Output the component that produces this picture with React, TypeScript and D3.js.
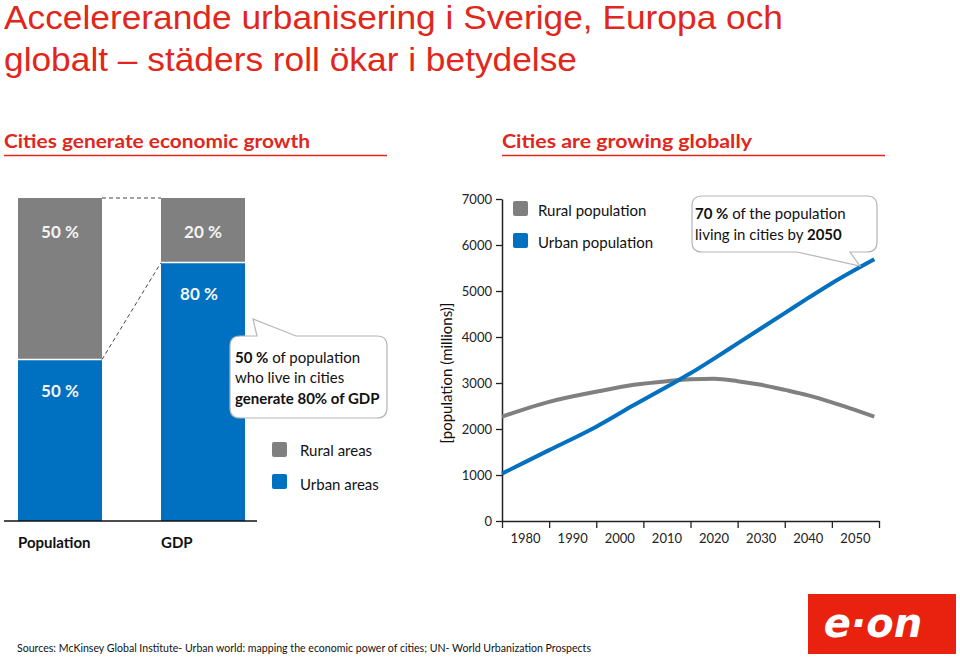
import React, { useEffect, useRef } from "react";
import * as d3 from "d3";

const titleLines = [
  "Accelererande urbanisering i Sverige, Europa och",
  "globalt – städers roll ökar i betydelse",
];
const subtitles = ["Cities generate economic growth", "Cities are growing  globally"];

const barCategories = ["Population", "GDP"];
const ruralShare = [50, 20];
const urbanShare = [50, 80];

const years = [1975, 1985, 1995, 2003, 2010, 2015, 2020, 2025, 2030, 2035, 2040, 2045, 2054];
const ruralPop = [2270, 2590, 2810, 2960, 3040, 3080, 3090, 3040, 2960, 2850, 2730, 2580, 2270];
const urbanPop = [1030, 1540, 2050, 2520, 2920, 3210, 3530, 3860, 4190, 4520, 4850, 5170, 5690];

const yTicks = [0, 1000, 2000, 3000, 4000, 5000, 6000, 7000];
const xBoundaries = [1975, 1985, 1995, 2005, 2015, 2025, 2035, 2045, 2055];
const xLabels = ["1980", "1990", "2000", "2010", "2020", "2030", "2040", "2050"];

const RED = "#e1261c";
const GRAY = "#808080";
const BLUE = "#0070c0";
const FONT = "Lato, 'Open Sans', sans-serif";

export default function App() {
  const yAxisRef = useRef<SVGGElement>(null);
  const xAxisRef = useRef<SVGGElement>(null);

  // Left chart scales
  const bx = d3.scaleBand<string>().domain(barCategories).range([18, 245]).paddingInner(0.4126).paddingOuter(0);
  const by = d3.scaleLinear().domain([0, 100]).range([521, 198]);

  // Right chart scales
  const x = d3.scaleLinear().domain([1975, 2055]).range([502, 879]);
  const y = d3.scaleLinear().domain([0, 7000]).range([521, 199]);

  const line = d3
    .line<number>()
    .x((_, i) => x(years[i]))
    .y((d) => y(d))
    .curve(d3.curveMonotoneX);

  useEffect(() => {
    if (yAxisRef.current) {
      const g = d3.select(yAxisRef.current);
      g.call(
        d3.axisLeft(y).tickValues(yTicks).tickSize(6).tickSizeOuter(0).tickPadding(4).tickFormat(d3.format("d")) as any
      );
      g.select(".domain").attr("stroke", "#222").attr("stroke-width", 1.5);
      g.selectAll(".tick line").attr("stroke", "#222").attr("stroke-width", 1.3);
      g.selectAll(".tick text").attr("font-family", FONT).attr("font-size", 13).attr("fill", "#222");
    }
    if (xAxisRef.current) {
      const g = d3.select(xAxisRef.current);
      g.call(d3.axisBottom(x).tickValues(xBoundaries).tickSize(7).tickSizeOuter(0).tickFormat(() => "") as any);
      g.select(".domain").attr("stroke", "#222").attr("stroke-width", 1.5);
      g.selectAll(".tick line").attr("stroke", "#222").attr("stroke-width", 1.3);
    }
  }, []);

  const bw = bx.bandwidth();
  const popX = bx("Population")!;
  const gdpX = bx("GDP")!;

  return (
    <svg
      width={960}
      height={660}
      style={{ position: "absolute", left: 0, top: 0, background: "#fff" }}
      xmlns="http://www.w3.org/2000/svg"
    >
      <rect x={0} y={0} width={960} height={660} fill="#fff" />
      {/* Title */}
      <g fontFamily="'Liberation Sans', Arial, sans-serif" fill={RED} fontSize={33}>
        <text x={4} y={29} textLength={779} lengthAdjust="spacingAndGlyphs">{titleLines[0]}</text>
        <text x={4} y={71} textLength={573} lengthAdjust="spacingAndGlyphs">{titleLines[1]}</text>
      </g>
      {/* Subtitles */}
      <g fontFamily={FONT} fill={RED} fontSize={19} fontWeight={700} style={{ whiteSpace: "pre" }}>
        <text x={4} y={148} textLength={306} lengthAdjust="spacingAndGlyphs">{subtitles[0]}</text>
        <text x={502} y={148} textLength={250} lengthAdjust="spacingAndGlyphs">{subtitles[1]}</text>
      </g>
      <line x1={4} x2={387} y1={155.5} y2={155.5} stroke={RED} strokeWidth={1.5} />
      <line x1={502} x2={885} y1={155.5} y2={155.5} stroke={RED} strokeWidth={1.5} />

      {/* Left stacked bars */}
      <g>
        {barCategories.map((c, i) => {
          const x0 = bx(c)!;
          const split = by(urbanShare[i]);
          return (
            <g key={c}>
              <rect x={x0} y={by(100)} width={bw} height={split - by(100)} fill={GRAY} />
              <rect x={x0} y={split} width={bw} height={by(0) - split} fill={BLUE} />
              <line x1={x0} x2={x0 + bw} y1={split} y2={split} stroke="#fff" strokeWidth={1.5} />
              <text
                x={x0 + bw / 2}
                y={by(100) + 40}
                textAnchor="middle"
                fill="#f4f4f4"
                fontFamily={FONT}
                fontWeight={700}
                fontSize={17}
              >
                {`${ruralShare[i]} %`}
              </text>
              <text
                x={x0 + bw / 2 - (i === 1 ? 4 : 0)}
                y={split + 37}
                textAnchor="middle"
                fill="#f4f4f4"
                fontFamily={FONT}
                fontWeight={700}
                fontSize={17}
              >
                {`${urbanShare[i]} %`}
              </text>
              <text x={x0} y={548} fontFamily={FONT} fontWeight={700} fontSize={15} fill="#111">
                {c}
              </text>
            </g>
          );
        })}
        <line
          x1={popX + bw}
          x2={gdpX}
          y1={by(100)}
          y2={by(100)}
          stroke="#444"
          strokeWidth={1}
          strokeDasharray="4,3"
        />
        <line
          x1={popX + bw}
          x2={gdpX}
          y1={by(urbanShare[0])}
          y2={by(urbanShare[1])}
          stroke="#444"
          strokeWidth={1}
          strokeDasharray="4,3"
        />
        <line x1={4} x2={257} y1={521} y2={521} stroke="#111" strokeWidth={1.5} />
      </g>

      {/* Left callout */}
      <path
        d="M240,336 L257,336 L253,319 L296,336 L377,336 Q387,336 387,346 L387,408 Q387,418 377,418 L240,418 Q230,418 230,408 L230,346 Q230,336 240,336 Z"
        fill="#fff"
        stroke="#b5b5b5"
        strokeWidth={1.2}
      />
      <g fontFamily={FONT} fontSize={15} fill="#111">
        <text x={235} y={363}>
          <tspan fontWeight={700}>50 %</tspan>
          <tspan> of population</tspan>
        </text>
        <text x={235} y={383}>who live in cities</text>
        <text x={235} y={404} fontWeight={700}>generate 80% of GDP</text>
      </g>

      {/* Left legend */}
      <rect x={272} y={442} width={15} height={15} rx={2} fill={GRAY} />
      <rect x={272} y={474} width={15} height={15} rx={2} fill={BLUE} />
      <g fontFamily={FONT} fontSize={15} fill="#111">
        <text x={300} y={456}>Rural areas</text>
        <text x={300} y={490}>Urban areas</text>
      </g>

      {/* Right chart */}
      <g ref={yAxisRef} transform={`translate(${x(1975)},0)`} />
      <g ref={xAxisRef} transform={`translate(0,${y(0)})`} />
      {xLabels.map((l) => (
        <text
          key={l}
          x={x(+l)}
          y={543}
          textAnchor="middle"
          fontFamily={FONT}
          fontSize={13}
          fill="#222"
        >
          {l}
        </text>
      ))}
      <text
        transform={`translate(452,373) rotate(-90)`}
        textAnchor="middle"
        fontFamily={FONT}
        fontSize={15}
        fill="#111"
      >
        [population (millions)]
      </text>
      <path d={line(ruralPop) || ""} fill="none" stroke={GRAY} strokeWidth={4} />
      <path d={line(urbanPop) || ""} fill="none" stroke={BLUE} strokeWidth={4} />

      {/* Right legend */}
      <rect x={513} y={201} width={15} height={15} rx={2} fill={GRAY} />
      <rect x={513} y={233} width={15} height={15} rx={2} fill={BLUE} />
      <g fontFamily={FONT} fontSize={15} fill="#111">
        <text x={538} y={216}>Rural population</text>
        <text x={538} y={248}>Urban population</text>
      </g>

      {/* Right callout */}
      <path
        d="M702,196 L867,196 Q877,196 877,206 L877,242 Q877,252 867,252 L850,252 L860,266 L797,252 L702,252 Q692,252 692,242 L692,206 Q692,196 702,196 Z"
        fill="#fff"
        stroke="#b5b5b5"
        strokeWidth={1.2}
      />
      <g fontFamily={FONT} fontSize={15} fill="#111">
        <text x={695} y={219}>
          <tspan fontWeight={700}>70 %</tspan>
          <tspan> of the population</tspan>
        </text>
        <text x={695} y={240}>
          <tspan>living in cities by </tspan>
          <tspan fontWeight={700}>2050</tspan>
        </text>
      </g>

      {/* Logo */}
      <rect x={808} y={594} width={148} height={60} fill="#e8220e" />
      <text
        x={873}
        y={637}
        textAnchor="middle"
        fontFamily="'DejaVu Sans', sans-serif"
        fontWeight={700}
        fontStyle="italic"
        fontSize={40}
        fill="#fff"
      >
        e·on
      </text>

      {/* Footer */}
      <text x={17} y={652} fontFamily={FONT} fontSize={11} fill="#111" textLength={574} lengthAdjust="spacingAndGlyphs">
        Sources: McKinsey Global Institute- Urban world: mapping the economic power of cities; UN- World Urbanization Prospects
      </text>
    </svg>
  );
}
